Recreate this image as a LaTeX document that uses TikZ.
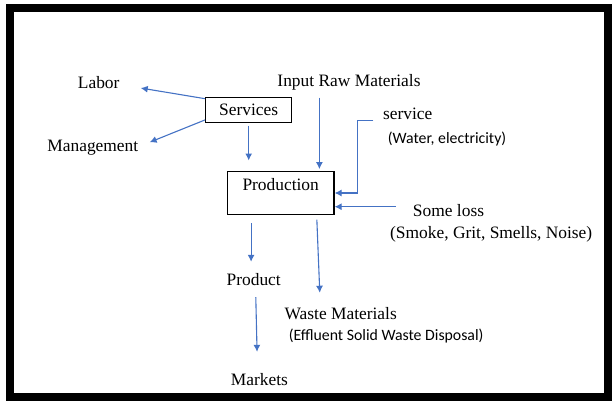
\documentclass[tikz,border=0pt]{standalone}
\usepackage{fontspec}
\setmainfont{Liberation Serif}
\newfontfamily\calfont{Carlito}
\usepackage{tikz}
\usetikzlibrary{arrows.meta}
\definecolor{flowblue}{RGB}{68,114,196}

\begin{document}
\begin{tikzpicture}[x=0.5pt, y=-0.5pt,
    flow/.style={-{Latex[length=3.5pt,width=3.5pt]}, flowblue, line width=0.55pt},
    box/.style={draw, line width=0.6pt, inner sep=0pt},
    lbl/.style={font=\fontsize{8.7}{10}\selectfont},
    note/.style={font=\calfont\fontsize{7.9}{9.5}\selectfont}]
        \useasboundingbox (0,0) rectangle (614,401);
        \draw [line width=4pt] (9.5,8) rectangle (608,397);
        \node [box, lbl, minimum width=43pt, minimum height=12.5pt] (serv) at (248.7,109.8) {Services};
        \node [box, minimum width=53.35pt, minimum height=21.3pt] (prod) at (280.65,193) {};
        \node [lbl] (prodtxt) at (280.7,185) {Production};
        \node [lbl] (labor) at (98.7,82.7) {Labor};
        \node [lbl] (mgmt) at (92.8,148) {Management};
        \node [lbl] (raw) at (349,82.7) {Input Raw Materials};
        \node [lbl] (svc) at (407.7,114) {service};
        \node [note] (water) at (447,139.3) {(Water, electricity)};
        \node [lbl] (loss) at (448.5,211) {Some loss};
        \node [lbl] (smoke) at (491.2,234.3) {(Smoke, Grit, Smells, Noise)};
        \node [lbl] (product) at (253.7,280) {Product};
        \node [lbl] (waste) at (340.7,314) {Waste Materials};
        \node [note] (effluent) at (386.2,336) {(Effluent Solid Waste Disposal)};
        \node [lbl] (markets) at (259.4,380) {Markets};
        \coordinate (rawtop) at ([xshift=-14.8pt]raw.south);
        \coordinate (svcin) at (373.3,120.3);
        \coordinate (lossin) at (395.7,206.7);
        \coordinate (prodin) at ([xshift=-1.3pt]product.north);
        \draw [flow, shorten >=7.2pt] ([yshift=-1pt]serv.north west) -- ([yshift=-1.5pt]labor.east);
        \draw [flow, shorten >=2.35pt] ([yshift=1.5pt]serv.south west) -- ([yshift=2pt]mgmt.east);
        \draw [flow, shorten <=1.4pt, shorten >=5.3pt] (serv.south) -- (serv.south |- prod.north);
        \draw [flow, shorten >=1pt] (rawtop) -- (rawtop |- prod.north);
        \draw [flow] (svcin) -- ++(-15.6,0) |- (prod.east);
        \draw [flow] (lossin) -- (lossin -| prod.east);
        \draw [flow, shorten <=4.2pt, shorten >=2.5pt] (prodin |- prod.south) -- (prodin);
        \draw [flow, shorten <=2.4pt, shorten >=4pt] ([xshift=18pt]prod.south) -- ([xshift=-10.3pt]waste.north);
        \draw [flow, shorten <=2pt, shorten >=7.5pt] ([xshift=1pt]product.south) -- ([xshift=-1pt]markets.north);
\end{tikzpicture}
\end{document}
